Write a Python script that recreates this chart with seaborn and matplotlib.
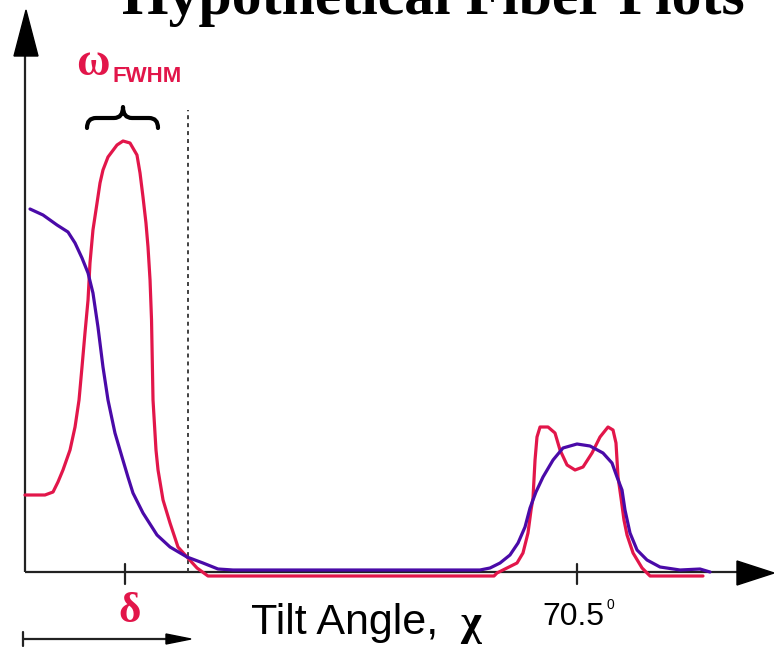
import numpy as np
import pandas as pd
import matplotlib
matplotlib.use("Agg")
import matplotlib.pyplot as plt
import seaborn as sns
from matplotlib.patches import Polygon, PathPatch
from matplotlib.path import Path

# ---------------- data ----------------
title = "Hypothetical Fiber Plots"
x_label = "Tilt Angle, "
x_symbol = "χ"
tick_positions = [12.8, 70.5]
tick_label_main = "70.5"
tick_label_sup = "0"
delta_label = "δ"
fwhm_symbol = "ω"
fwhm_sub = "FWHM"

red_chi = [0.0, 2.55, 3.58, 4.21, 4.85, 5.75, 6.39, 6.90, 7.28, 7.66, 8.05, 8.30,
           8.68, 9.20, 9.58, 9.96, 10.60, 11.75, 12.52, 13.41, 14.30, 14.69, 15.07,
           15.45, 15.71, 15.97, 16.16, 16.35, 16.73, 16.99, 17.63, 18.52, 19.54,
           20.69, 21.97, 23.37,
           59.90, 60.28, 61.56, 62.84, 63.60, 64.24, 64.63, 64.88, 65.14, 65.39,
           65.78, 66.80, 67.69, 68.33, 69.23, 70.25, 71.27, 72.42, 73.44, 74.46,
           75.10, 75.48, 75.74, 76.12, 76.50, 76.89, 77.66, 78.81, 79.83, 86.59]
red_int = [77, 77, 80, 90, 102, 122, 145, 172, 205, 239, 272, 309,
           342, 369, 389, 402, 415, 427, 431, 429, 417, 399, 375,
           349, 325, 292, 252, 172, 122, 102, 72, 49, 25,
           15, 4, -4,
           -4, -1, 4, 9, 19, 39, 62, 74, 112, 135,
           145, 145, 139, 122, 107, 102, 105, 119, 135, 145,
           142, 129, 95, 74, 52, 37, 19, 4, -4, -4]

purple_chi = [0.64, 2.30, 4.09, 5.49, 6.39, 7.28, 8.05, 8.68, 9.32, 9.96, 10.60,
              11.49, 12.39, 13.15, 13.79, 15.07, 16.86, 18.52, 20.69, 22.73, 24.65,
              26.57, 58.11,
              59.39, 60.67, 61.94, 62.97, 63.86, 64.50, 65.26, 66.16, 67.44, 68.71,
              70.50, 72.16, 73.82, 74.97, 75.61, 76.25, 76.63, 77.27, 78.17, 79.44,
              81.10, 83.66, 86.21, 87.49]
purple_int = [363, 357, 347, 340, 329, 314, 299, 279, 245, 205, 172,
              139, 115, 95, 79, 59, 37, 25, 15, 9, 3,
              2, 2,
              4, 9, 17, 29, 45, 64, 80, 95, 112, 124,
              128, 126, 119, 109, 95, 82, 62, 39, 22, 12,
              5, 2, 3, 0]

RED = "#E2164A"
PURPLE = "#4A0AA8"
AX = "#222222"

# ---------------- figure ----------------
sns.set_style("white")
fig = plt.figure(figsize=(7.74, 6.47), dpi=100)
ax = fig.add_axes([0, 0, 1, 1])

K = 70.5 / 552.0
def dx(px):
    return (px - 25) * K
def dy(py):
    return 572 - py

red_df = pd.DataFrame({"chi": red_chi, "intensity": red_int})
pur_df = pd.DataFrame({"chi": purple_chi, "intensity": purple_int})

sns.lineplot(data=pur_df, x="chi", y="intensity", color=PURPLE, lw=2.3,
             estimator=None, sort=False, ax=ax, zorder=4)
sns.lineplot(data=red_df, x="chi", y="intensity", color=RED, lw=2.3,
             estimator=None, sort=False, ax=ax, zorder=3)
for ln in ax.get_lines():
    ln.set_solid_joinstyle("round")
    ln.set_solid_capstyle("round")
ax.axis("off")
ax.set_xlim(dx(0), dx(774))
ax.set_ylim(dy(647), dy(0))

# axes lines
ax.plot([0, 0], [0, dy(50)], color=AX, lw=1.6, zorder=2, solid_capstyle="butt")
ax.plot([0, dx(745)], [0, 0], color=AX, lw=1.6, zorder=2, solid_capstyle="butt")
ax.add_patch(Polygon([(dx(26), dy(10)), (dx(14), dy(56)), (dx(38), dy(56))],
                     closed=True, color="black", zorder=5))
ax.add_patch(Polygon([(dx(774), dy(573)), (dx(737), dy(561)), (dx(737), dy(585))],
                     closed=True, color="black", zorder=5))

# ticks
for t in tick_positions:
    ax.plot([t, t], [dy(564), dy(584)], color=AX, lw=1.6, zorder=2)

# dashed line
ax.plot([dx(188), dx(188)], [0, dy(110)], color="#333333", lw=1.3,
        linestyle=(0, (2.2, 2.2)), zorder=2)

# brace
x0, x1, xc = dx(87), dx(158), dx(123)
yb, ym, yt = dy(128), dy(118), dy(107)
w = dx(96) - dx(87)
verts = [(x0, yb), (x0, ym), (x0 + w, ym),
         (xc - w, ym), (xc, ym), (xc, yt),
         (xc, ym), (xc + w, ym),
         (x1 - w, ym), (x1, ym), (x1, yb)]
codes = [Path.MOVETO, Path.CURVE3, Path.CURVE3,
         Path.LINETO, Path.CURVE3, Path.CURVE3,
         Path.CURVE3, Path.CURVE3,
         Path.LINETO, Path.CURVE3, Path.CURVE3]
ax.add_patch(PathPatch(Path(verts, codes), fill=False, lw=3.0, color="black",
                       capstyle="round", joinstyle="round", zorder=5))

# title
ax.text(dx(433), dy(14), title, ha="center", va="baseline",
        fontfamily="Liberation Serif", fontweight="bold", fontsize=43,
        color="black", clip_on=False)

# omega FWHM
ax.text(dx(76), dy(75), fwhm_symbol, ha="left", va="baseline",
        fontfamily="Liberation Serif", fontweight="bold", fontsize=33, color=RED)
ax.text(dx(112), dy(82), fwhm_sub, ha="left", va="baseline",
        fontfamily="Liberation Sans", fontweight="bold", fontsize=16, color=RED)

# delta
ax.text(dx(130), dy(622), delta_label, ha="center", va="baseline",
        fontfamily="Liberation Serif", fontweight="bold", fontsize=31, color=RED)

# x label
ax.text(dx(251), dy(634), x_label, ha="left", va="baseline",
        fontfamily="Liberation Sans", fontsize=31, color="black")
ax.text(dx(460), dy(635), x_symbol, ha="left", va="baseline",
        fontfamily="Liberation Serif", fontweight="bold", fontsize=32, color="black")

# 70.5 label
ax.text(dx(542), dy(625), tick_label_main, ha="left", va="baseline",
        fontfamily="Liberation Sans", fontsize=23, color="black")
ax.text(dx(607), dy(609), tick_label_sup, ha="left", va="baseline",
        fontfamily="Liberation Sans", fontsize=10, color="black")

# bottom arrow
ax.plot([dx(23), dx(175)], [dy(639), dy(639)], color=AX, lw=1.6)
ax.plot([dx(23), dx(23)], [dy(632), dy(646)], color=AX, lw=1.6)
ax.add_patch(Polygon([(dx(191), dy(639)), (dx(166), dy(634)), (dx(166), dy(644))],
                     closed=True, color="black", zorder=5))

fig.savefig("out.png", dpi=100)
